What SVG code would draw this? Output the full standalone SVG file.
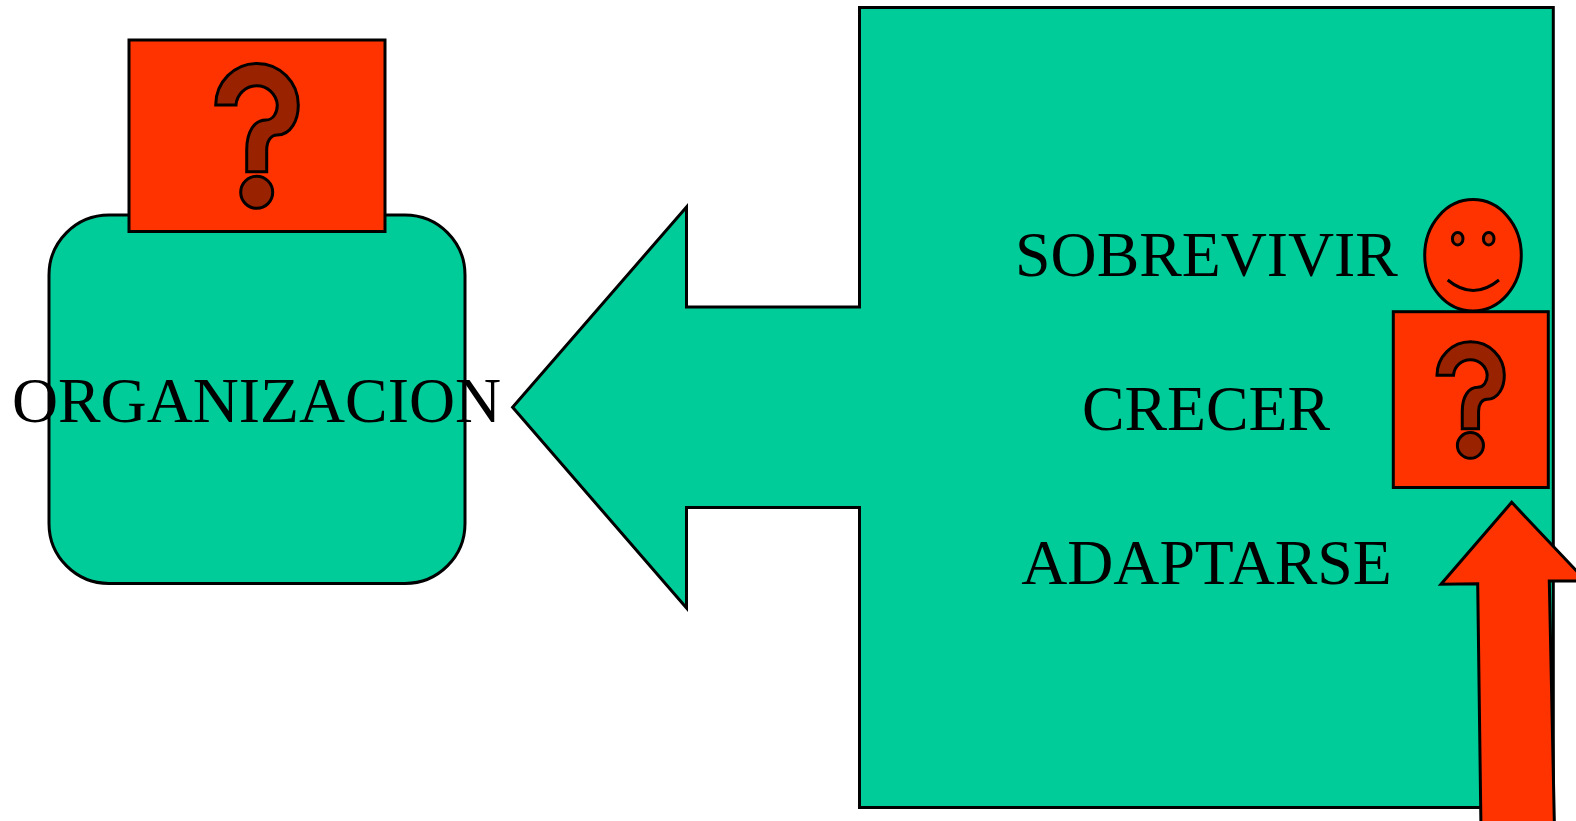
<svg xmlns="http://www.w3.org/2000/svg" xmlns:xlink="http://www.w3.org/1999/xlink" width="1576" height="821" viewBox="0 0 1576 821">
<style>
.s{stroke:#000;stroke-width:3;stroke-linejoin:miter}
.g{fill:#00CC99}
.r{fill:#FF3300}
.q{fill:#992200;stroke:#000;stroke-width:3;vector-effect:non-scaling-stroke}
.t{font-family:"Liberation Serif","Times New Roman",serif;font-size:63.8px;fill:#000;text-anchor:middle}
</style>
<defs>
<g id="qm">
<path class="q" d="M215.7 105A41.3 41.6 0 0 1 298.3 105C298.3 120 291 135 277 135C271 135 266.7 141 266.7 150V171.7H246.7V150C246.7 132 254 120 266 120C273 120 277.3 113 277.3 105A20.7 20.7 0 0 0 236 105Z"/>
<circle class="q" cx="256.7" cy="192.3" r="16"/>
</g>
</defs>
<g id="environment">
<path class="s g" d="M859.5 7.5H1553.3V807.5H859.5V507.5H686.5V608L512.6 407.3L686.5 207V307H859.5Z"/>
<text class="t" x="1206.5" y="275.5">SOBREVIVIR</text>
<text class="t" x="1206" y="430">CRECER</text>
<text class="t" x="1206.5" y="584">ADAPTARSE</text>
</g>
<g id="organization">
<rect class="s g" x="49" y="215" width="416" height="368.5" rx="60" ry="60"/>
</g>
<g id="org-question">
<rect class="s r" x="129" y="40" width="256" height="191.5"/>
<use xlink:href="#qm" href="#qm"/>
</g>
<text id="organization-label" class="t" x="256.5" y="422">ORGANIZACION</text>
<g id="face">
<ellipse class="s r" cx="1473" cy="255.3" rx="48.3" ry="55.7"/>
<ellipse class="s" fill="#CC3300" cx="1457.7" cy="238.7" rx="5.3" ry="6.3"/>
<ellipse class="s" fill="#CC3300" cx="1488.7" cy="238.7" rx="5.3" ry="6.3"/>
<path class="s" fill="none" d="M1447.7 280Q1473.3 301 1499 280"/>
</g>
<g id="env-question">
<rect class="s r" x="1393.3" y="311.7" width="155" height="175.8"/>
<use xlink:href="#qm" href="#qm" transform="translate(1437 341.7) scale(.815 .804) translate(-215.7 -63.3)"/>
</g>
<g id="arrow-up">
<path class="s r" d="M1511.7 502.3L1441 584.3L1477.7 583.7L1481 830H1554.5L1549.3 581H1600L1586 581Z"/>
</g>
</svg>
